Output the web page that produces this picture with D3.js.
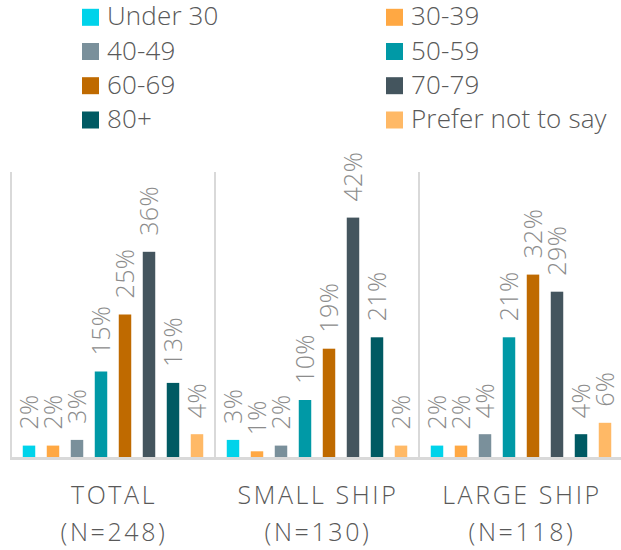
<!DOCTYPE html>
<html>
<head>
<meta charset="utf-8">
<script src="https://cdn.jsdelivr.net/npm/d3@7"></script>
<style>
  html, body { margin: 0; padding: 0; background: #fff; }
  svg { display: block; font-family: "Open Sans", "Noto Sans", sans-serif; font-weight: 300; }
</style>
</head>
<body>
<svg id="chart" width="621" height="550"></svg>
<script>
// ---- data ----
const categories = ["TOTAL", "SMALL SHIP", "LARGE SHIP"];
const categoryN = ["(N=248)", "(N=130)", "(N=118)"];
const seriesNames = ["Under 30", "30-39", "40-49", "50-59", "60-69", "70-79", "80+", "Prefer not to say"];
const seriesColors = ["#00D3EA", "#FFA843", "#7A909B", "#0099A6", "#BF6A00", "#44555E", "#005A63", "#FFB966"];
const totalValues = [2, 2, 3, 15, 25, 36, 13, 4];
const smallShipValues = [3, 1, 2, 10, 19, 42, 21, 2];
const largeShipValues = [2, 2, 4, 21, 32, 29, 4, 6];
const valuesByCategory = [totalValues, smallShipValues, largeShipValues];

// ---- layout ----
const svg = d3.select("#chart");
const plotLeft = 11, plotRight = 623, plotTop = 172, baseY = 457;

const x0 = d3.scaleBand().domain(categories).range([plotLeft, plotRight]).padding(0);
const x1 = d3.scaleBand().domain(seriesNames).range([0, x0.bandwidth()])
  .paddingInner(0.48).paddingOuter(0.49);
const y = d3.scaleLinear().domain([0, 50]).range([baseY, plotTop]);
const color = d3.scaleOrdinal().domain(seriesNames).range(seriesColors);

// separators
const seps = categories.map(c => x0(c)).concat([x0(categories[categories.length - 1]) + x0.bandwidth()]);
svg.append("g").selectAll("line").data(seps).join("line")
  .attr("x1", d => d).attr("x2", d => d)
  .attr("y1", plotTop).attr("y2", baseY + 1)
  .attr("stroke", "#D9D9D9").attr("stroke-width", 2);

// bars
const groups = svg.append("g").selectAll("g").data(categories).join("g")
  .attr("transform", c => `translate(${x0(c)},0)`);

groups.selectAll("rect")
  .data((c, i) => seriesNames.map((s, j) => ({ s, v: valuesByCategory[i][j] })))
  .join("rect")
  .attr("x", d => x1(d.s))
  .attr("width", x1.bandwidth())
  .attr("y", d => y(d.v))
  .attr("height", d => baseY - y(d.v))
  .attr("fill", d => color(d.s));

// value labels (rotated)
groups.selectAll("text")
  .data((c, i) => seriesNames.map((s, j) => ({ s, v: valuesByCategory[i][j] })))
  .join("text")
  .attr("transform", d => `translate(${x1(d.s) + x1.bandwidth() / 2},${y(d.v) - 16}) rotate(-90)`)
  .attr("dy", "0.36em")
  .attr("text-anchor", "start")
  .attr("font-size", 25)
  .attr("letter-spacing", 0.4)
  .attr("fill", "#8C8C8C")
  .text(d => d.v + "%");

// baseline
svg.append("line")
  .attr("x1", plotLeft - 1).attr("x2", 621)
  .attr("y1", baseY + 1.5).attr("y2", baseY + 1.5)
  .attr("stroke", "#D9D9D9").attr("stroke-width", 3);

// category labels
const catG = svg.append("g").selectAll("g").data(categories).join("g")
  .attr("transform", c => `translate(${x0(c) + x0.bandwidth() / 2 + 1},0)`);
catG.append("text")
  .attr("y", 504)
  .attr("text-anchor", "middle")
  .attr("font-size", 25)
  .attr("letter-spacing", 2.6)
  .attr("fill", "#595959")
  .text(c => c);
catG.append("text")
  .attr("y", 541)
  .attr("text-anchor", "middle")
  .attr("font-size", 25)
  .attr("letter-spacing", 2.6)
  .attr("fill", "#595959")
  .text((c, i) => categoryN[i]);

// legend
const legendCols = [82, 386];
const legendRows = [17.3, 51.5, 85.7, 120];
const legend = svg.append("g").selectAll("g").data(seriesNames).join("g")
  .attr("transform", (s, i) => `translate(${legendCols[i % 2]},${legendRows[Math.floor(i / 2)]})`);
legend.append("rect")
  .attr("x", 0).attr("y", -8.5).attr("width", 17).attr("height", 17)
  .attr("fill", s => color(s));
legend.append("text")
  .attr("x", 25).attr("y", 8)
  .attr("font-size", 26)
  .attr("letter-spacing", 0.15)
  .attr("fill", "#595959")
  .text(s => s);
</script>
</body>
</html>
